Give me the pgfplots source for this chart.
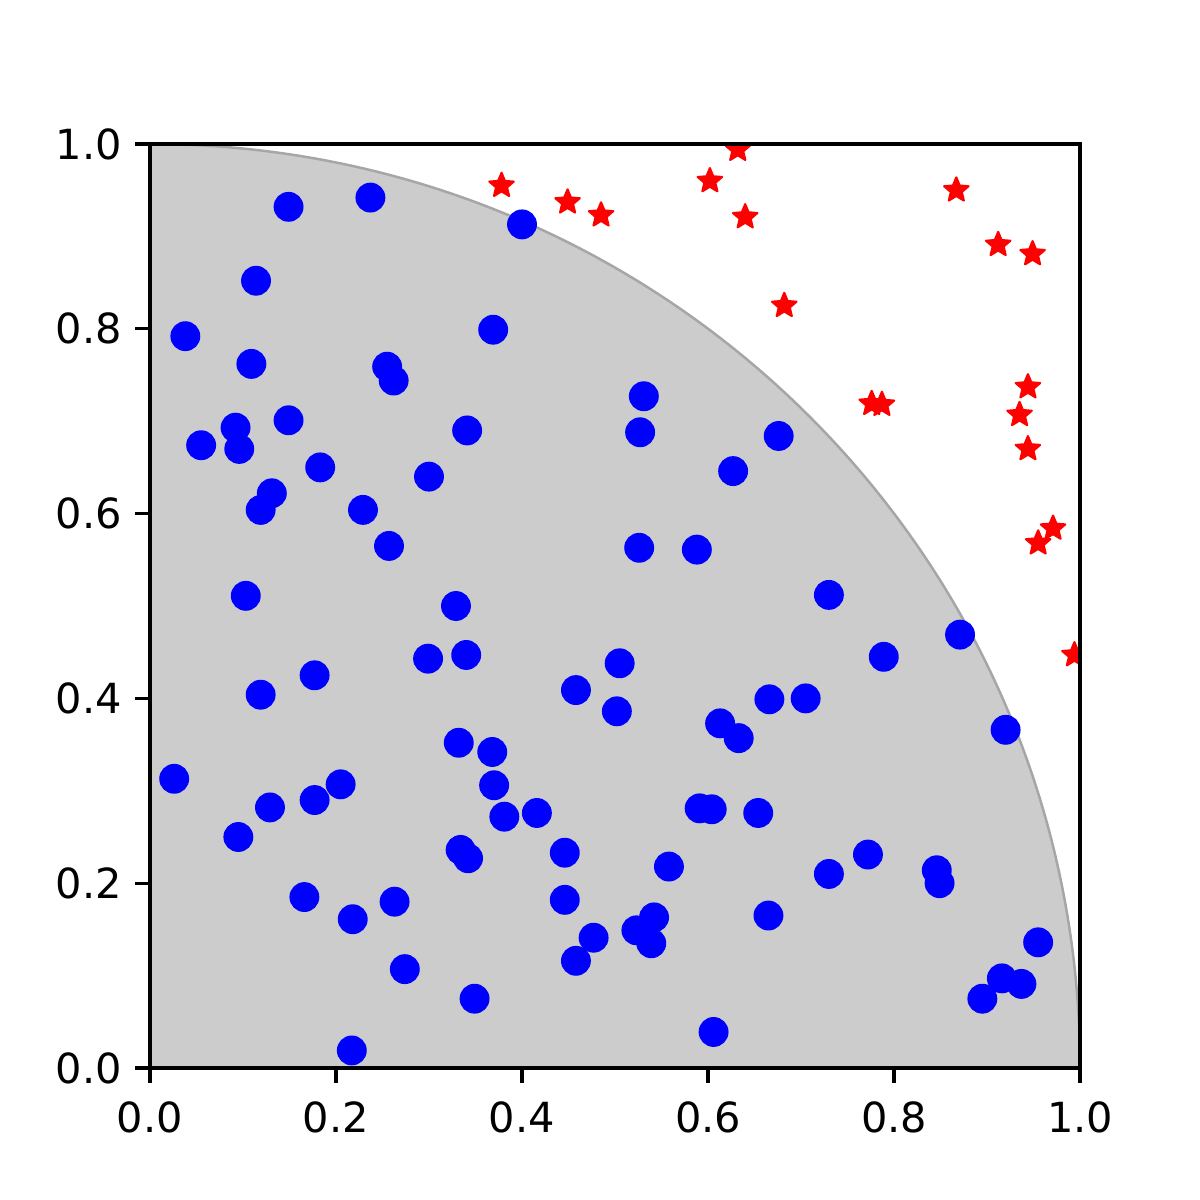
\documentclass[border=0pt]{standalone}
\usepackage{pgfplots}
\pgfplotsset{compat=1.18}
\usepackage{fontspec}
\setmainfont{DejaVu Sans}

% filled five-pointed star
\pgfdeclareplotmark{fstar}{%
  \pgfpathmoveto{\pgfpointpolar{90}{\pgfplotmarksize}}%
  \pgfpathlineto{\pgfpointpolar{126}{0.45\pgfplotmarksize}}%
  \pgfpathlineto{\pgfpointpolar{162}{\pgfplotmarksize}}%
  \pgfpathlineto{\pgfpointpolar{198}{0.45\pgfplotmarksize}}%
  \pgfpathlineto{\pgfpointpolar{234}{\pgfplotmarksize}}%
  \pgfpathlineto{\pgfpointpolar{270}{0.45\pgfplotmarksize}}%
  \pgfpathlineto{\pgfpointpolar{306}{\pgfplotmarksize}}%
  \pgfpathlineto{\pgfpointpolar{342}{0.45\pgfplotmarksize}}%
  \pgfpathlineto{\pgfpointpolar{18}{\pgfplotmarksize}}%
  \pgfpathlineto{\pgfpointpolar{54}{0.45\pgfplotmarksize}}%
  \pgfpathclose
  \pgfusepathqfillstroke
}

\begin{document}
\begin{tikzpicture}
\path[use as bounding box] (0,0) rectangle (4in,4in);
\begin{axis}[
  at={(0.5in,0.44in)}, anchor=south west,
  scale only axis, width=3.1in, height=3.08in,
  xmin=0, xmax=1, ymin=0, ymax=1,
  xtick={0,0.2,0.4,0.6,0.8,1}, ytick={0,0.2,0.4,0.6,0.8,1},
  /pgf/number format/.cd, fixed, fixed zerofill, precision=1, assume math mode=true,
  /pgfplots/.cd,
  tick align=outside, major tick length=3.5pt,
  tick style={black, line width=0.8pt},
  axis line style={line width=0.8pt},
  xtick pos=bottom, ytick pos=left,
  axis on top,
  clip marker paths=true,
  xticklabel style={yshift=-1pt},
  yticklabel style={xshift=0.2pt},
]
\fill[black!20] (axis cs:0,0) ellipse [x radius=1, y radius=1];
\draw[black!35, line width=0.6pt] (axis cs:0,0) ellipse [x radius=1, y radius=1];

\addplot[only marks, mark=*, mark size=3.4pt, blue, mark options={draw=blue, fill=blue}]
coordinates {
(0.237,0.942) (0.149,0.932) (0.400,0.913) (0.114,0.852) (0.038,0.792)
(0.369,0.799) (0.109,0.762) (0.255,0.759) (0.262,0.744) (0.531,0.727)
(0.149,0.701) (0.092,0.693) (0.055,0.674) (0.096,0.670) (0.341,0.690)
(0.527,0.688) (0.676,0.684) (0.627,0.646) (0.183,0.650) (0.300,0.640)
(0.131,0.622) (0.119,0.604) (0.229,0.604) (0.257,0.565) (0.526,0.563)
(0.588,0.561) (0.730,0.512) (0.103,0.511) (0.329,0.500) (0.871,0.469)
(0.789,0.445) (0.299,0.443) (0.340,0.447) (0.505,0.438) (0.177,0.425)
(0.458,0.409) (0.119,0.404) (0.666,0.399) (0.705,0.400) (0.502,0.386)
(0.613,0.373) (0.633,0.357) (0.920,0.366) (0.332,0.352) (0.368,0.342)
(0.026,0.313) (0.370,0.306) (0.205,0.307) (0.129,0.282) (0.177,0.290)
(0.381,0.272) (0.416,0.276) (0.591,0.281) (0.604,0.280) (0.654,0.276)
(0.095,0.250) (0.334,0.236) (0.342,0.227) (0.446,0.233) (0.558,0.218)
(0.772,0.231) (0.730,0.210) (0.846,0.214) (0.849,0.200) (0.166,0.185)
(0.263,0.180) (0.446,0.182) (0.218,0.161) (0.542,0.163) (0.665,0.165)
(0.523,0.149) (0.539,0.135) (0.477,0.141) (0.955,0.136) (0.458,0.116)
(0.274,0.107) (0.916,0.097) (0.937,0.091) (0.895,0.075) (0.349,0.075)
(0.606,0.039) (0.217,0.019)
};

\addplot[only marks, mark=fstar, mark size=3.1pt, red, mark options={draw=red, fill=red, line width=0.5pt, line join=round}]
coordinates {
(0.632,0.994) (0.602,0.960) (0.378,0.955) (0.449,0.937) (0.485,0.923)
(0.640,0.921) (0.867,0.950) (0.912,0.891) (0.949,0.881) (0.682,0.825)
(0.944,0.737) (0.776,0.719) (0.787,0.718) (0.935,0.707) (0.944,0.670)
(0.971,0.584) (0.955,0.568) (0.994,0.447)
};
\end{axis}
\end{tikzpicture}
\end{document}
